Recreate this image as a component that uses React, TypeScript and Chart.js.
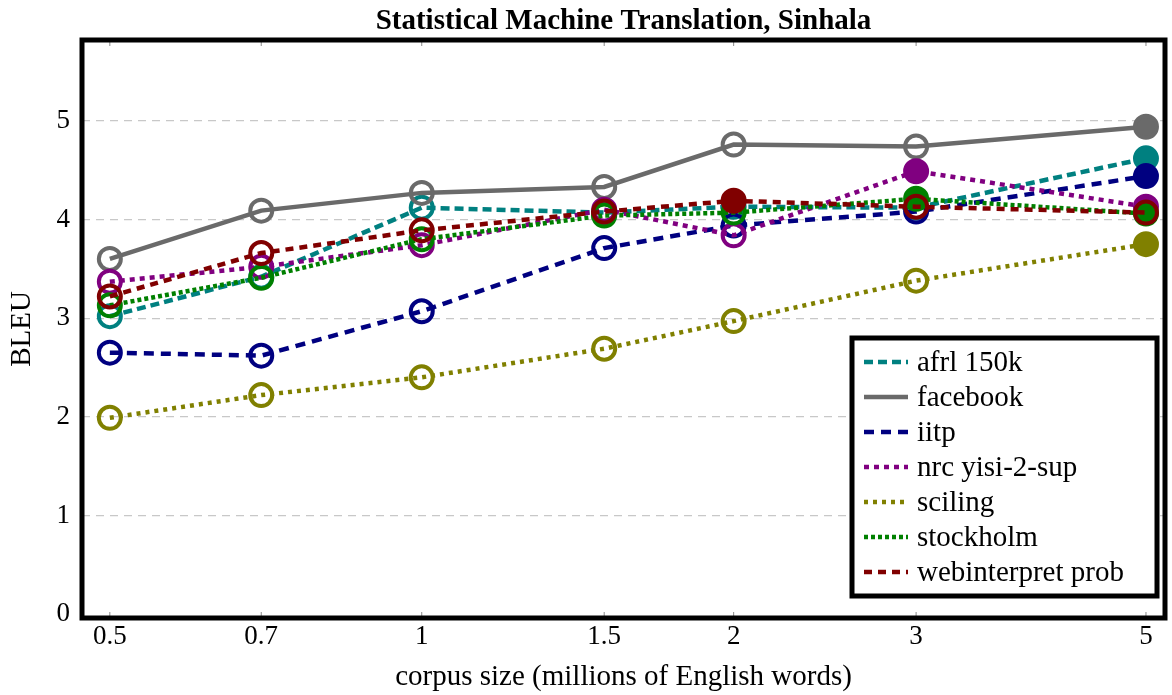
import React, { useEffect, useRef } from "react";
import { Chart, registerables } from "chart.js";

Chart.register(...registerables);

const sizes = [0.5, 0.7, 1, 1.5, 2, 3, 5];
const tickLabels = ["0.5", "0.7", "1", "1.5", "2", "3", "5"];
const yTicks = [0, 1, 2, 3, 4, 5];

const seriesNames = ["afrl 150k", "facebook", "iitp", "nrc yisi-2-sup", "sciling", "stockholm", "webinterpret prob"];
const afrl = [3.02, 3.42, 4.12, 4.07, 4.13, 4.12, 4.62];
const facebook = [3.60, 4.09, 4.27, 4.33, 4.76, 4.74, 4.94];
const iitp = [2.65, 2.62, 3.07, 3.71, 3.94, 4.08, 4.44];
const nrc = [3.37, 3.52, 3.74, 4.10, 3.84, 4.49, 4.13];
const sciling = [1.99, 2.22, 2.40, 2.69, 2.97, 3.38, 3.75];
const stockholm = [3.13, 3.41, 3.80, 4.04, 4.07, 4.21, 4.06];
const webinterpret = [3.22, 3.66, 3.89, 4.08, 4.19, 4.13, 4.07];

// filled (best) markers per series
const afrlFilled = [0, 0, 0, 0, 0, 0, 1];
const facebookFilled = [0, 0, 0, 0, 0, 0, 1];
const iitpFilled = [0, 0, 0, 0, 0, 0, 1];
const nrcFilled = [0, 0, 0, 0, 0, 1, 1];
const scilingFilled = [0, 0, 0, 0, 0, 0, 1];
const stockholmFilled = [0, 0, 0, 0, 0, 1, 1];
const webinterpretFilled = [0, 0, 0, 0, 1, 0, 0];

const colors = ["#008080", "#6a6a6a", "#000080", "#800080", "#808000", "#008000", "#800000"];
const dashes: number[][] = [[9, 5], [], [10, 7], [5, 5], [4, 5], [4, 3], [8, 6]];

const values = [afrl, facebook, iitp, nrc, sciling, stockholm, webinterpret];
const filled = [afrlFilled, facebookFilled, iitpFilled, nrcFilled, scilingFilled, stockholmFilled, webinterpretFilled];

const SERIF = "'Liberation Serif', 'Times New Roman', serif";
const PLOT_RIGHT = 1165;

const decorPlugin = {
  id: "decor",
  afterLayout(chart: any) {
    const xs = chart.scales.x;
    xs.right = PLOT_RIGHT;
    xs.width = xs.right - xs.left;
    xs.configure();
    chart.chartArea.right = PLOT_RIGHT;
    chart.chartArea.width = PLOT_RIGHT - chart.chartArea.left;
  },
  afterDraw(chart: any) {
    const ctx = chart.ctx;
    const a = chart.chartArea;
    const xs = chart.scales.x;
    ctx.save();
    // x tick marks inside frame
    ctx.strokeStyle = "#888";
    ctx.lineWidth = 1;
    sizes.forEach((s) => {
      const px = xs.getPixelForValue(s);
      ctx.beginPath();
      ctx.moveTo(px, a.bottom);
      ctx.lineTo(px, a.bottom - 6);
      ctx.moveTo(px, a.top);
      ctx.lineTo(px, a.top + 6);
      ctx.stroke();
    });
    // frame
    ctx.strokeStyle = "#000";
    ctx.lineWidth = 5;
    ctx.strokeRect(a.left, a.top, a.right - a.left, a.bottom - a.top);
    // title
    ctx.fillStyle = "#000";
    ctx.font = `bold 29px ${SERIF}`;
    ctx.textAlign = "center";
    ctx.textBaseline = "middle";
    ctx.fillText("Statistical Machine Translation, Sinhala", (a.left + a.right) / 2, 22);
    // axis titles
    ctx.font = `29px ${SERIF}`;
    ctx.fillText("corpus size (millions of English words)", (a.left + a.right) / 2, 677);
    ctx.save();
    ctx.translate(22, (a.top + a.bottom) / 2);
    ctx.rotate(-Math.PI / 2);
    ctx.fillText("BLEU", 0, 0);
    ctx.restore();
    // legend
    const lx = 852, ly = 338, lw = 305, lh = 258;
    ctx.fillStyle = "#fff";
    ctx.fillRect(lx, ly, lw, lh);
    ctx.strokeStyle = "#000";
    ctx.lineWidth = 5;
    ctx.strokeRect(lx, ly, lw, lh);
    ctx.font = `29px ${SERIF}`;
    ctx.textAlign = "left";
    seriesNames.forEach((name, i) => {
      const y = ly + 24 + i * 35;
      ctx.strokeStyle = colors[i];
      ctx.lineWidth = 4.5;
      ctx.setLineDash(dashes[i]);
      ctx.beginPath();
      ctx.moveTo(864, y);
      ctx.lineTo(908, y);
      ctx.stroke();
      ctx.setLineDash([]);
      ctx.fillStyle = "#000";
      ctx.fillText(name, 917, y + 1);
    });
    ctx.restore();
  },
};

export default function App() {
  const ref = useRef<HTMLCanvasElement | null>(null);
  useEffect(() => {
    document.body.style.margin = "0";
    const canvas = ref.current!;
    const datasets = seriesNames.map((name, i) => ({
      label: name,
      data: sizes.map((s, j) => ({ x: s, y: values[i][j] })),
      borderColor: colors[i],
      borderWidth: 4.5,
      borderDash: dashes[i],
      pointRadius: 11,
      pointHoverRadius: 11,
      pointBorderWidth: 4,
      pointBorderColor: colors[i],
      pointBackgroundColor: filled[i].map((f) => (f ? colors[i] : "rgba(0,0,0,0)")),
      fill: false,
      tension: 0,
      order: seriesNames.length - i,
    }));
    const chart = new Chart(canvas, {
      type: "line",
      data: { datasets },
      plugins: [decorPlugin],
      options: {
        animation: false,
        responsive: false,
        maintainAspectRatio: false,
        layout: { padding: { top: 40, right: 6, left: 0, bottom: 0 } },
        plugins: { legend: { display: false }, title: { display: false }, tooltip: { enabled: false } },
        scales: {
          x: {
            type: "logarithmic",
            min: 0.47,
            max: 5.216,
            afterBuildTicks: (scale: any) => {
              scale.ticks = sizes.map((v) => ({ value: v }));
            },
            afterFit: (scale: any) => {
              scale.height = 77;
              scale.paddingLeft = 0;
              scale.paddingRight = 0;
            },
            ticks: {
              autoSkip: false,
              maxRotation: 0,
              padding: -5,
              color: "#000",
              font: { family: SERIF, size: 27 },
              callback: (v: any) => {
                const k = sizes.indexOf(Number(v));
                return k >= 0 ? tickLabels[k] : "";
              },
            },
            grid: { display: false },
            border: { display: false },
          },
          y: {
            min: -0.04,
            max: 5.82,
            afterBuildTicks: (scale: any) => {
              scale.ticks = yTicks.map((v) => ({ value: v }));
            },
            afterFit: (scale: any) => {
              scale.width = 82;
              scale.paddingTop = 0;
              scale.paddingBottom = 0;
            },
            ticks: {
              padding: 12,
              color: "#000",
              font: { family: SERIF, size: 27 },
            },
            grid: {
              color: (c: any) => (c.tick && c.tick.value === 0 ? "rgba(0,0,0,0)" : "#c8c8c8"),
              lineWidth: 1.2,
              drawTicks: false,
            },
            border: { display: false, dash: [8, 6] },
          },
        },
      },
    } as any);
    return () => chart.destroy();
  }, []);
  return (
    <div style={{ width: 1172, height: 695 }}>
      <canvas ref={ref} width={1172} height={695} style={{ display: "block", width: 1172, height: 695 }} />
    </div>
  );
}
